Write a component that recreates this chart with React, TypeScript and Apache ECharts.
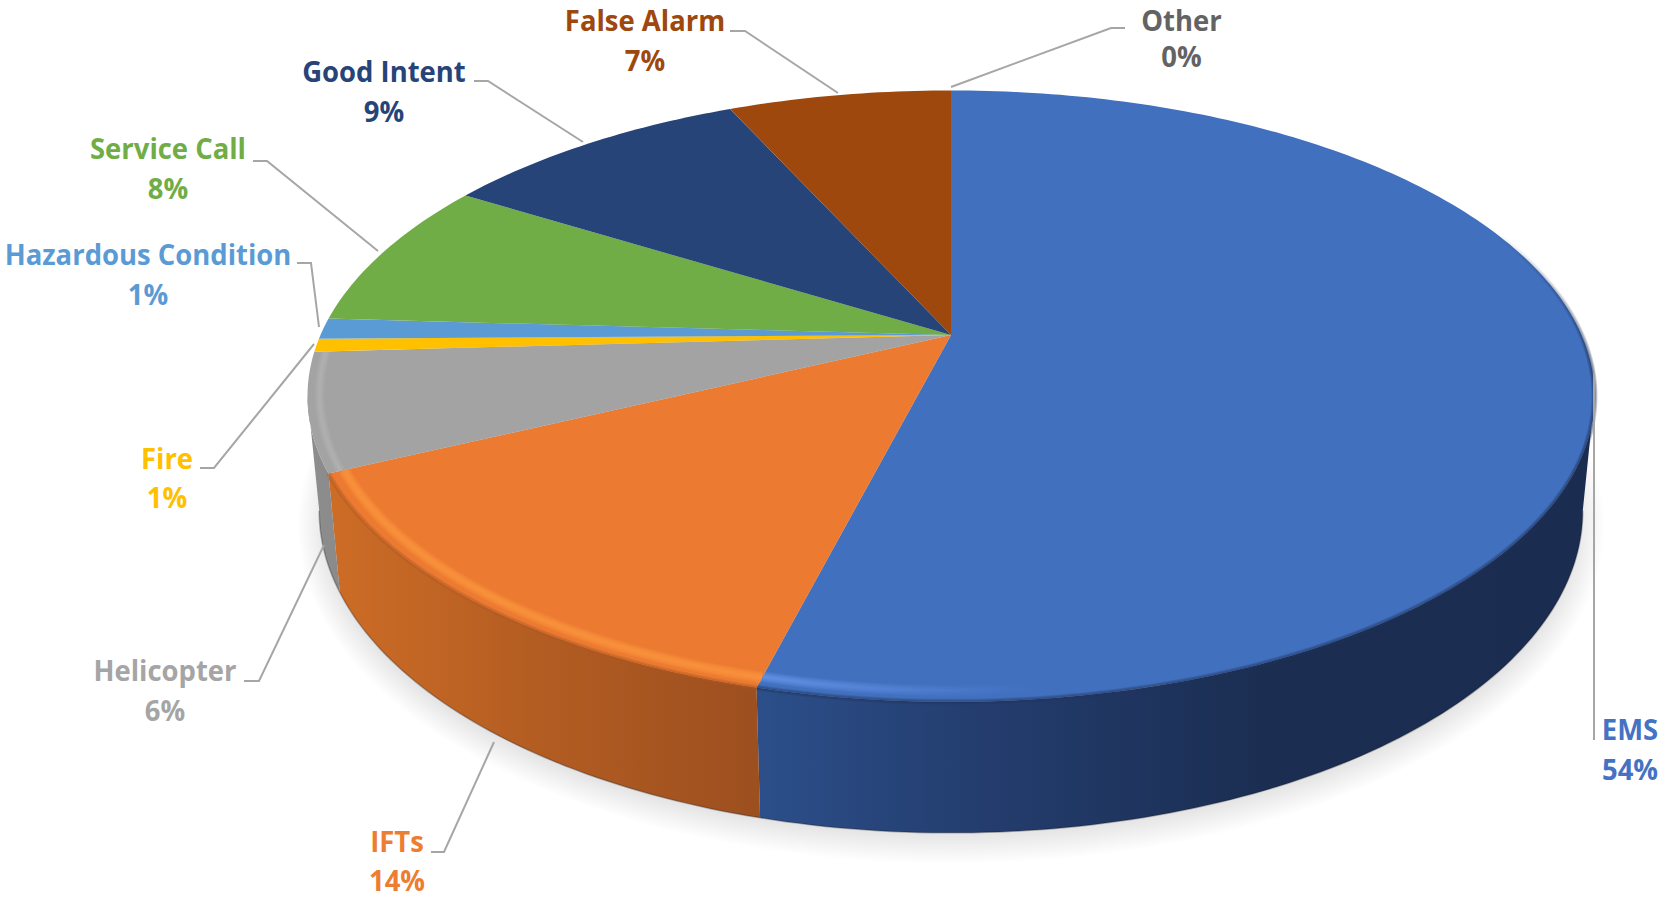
import React, { useEffect, useRef } from "react";
import * as echarts from "echarts";

const categories = ["EMS", "IFTs", "Helicopter", "Fire", "Hazardous Condition", "Service Call", "Good Intent", "False Alarm", "Other"];
const sliceValues = [54.0, 13.9, 6.2, 0.7, 1.1, 7.9, 9.4, 6.8, 0.0];
const percentLabels = ["54%", "14%", "6%", "1%", "1%", "8%", "9%", "7%", "0%"];
const topColors = ["#4170BF", "#EC7B31", "#A3A3A3", "#FFC000", "#5B9BD5", "#70AD47", "#264478", "#9E480E", "#636363"];
const textColors = ["#4472C4", "#ED7D31", "#A5A5A5", "#FFC000", "#5B9BD5", "#70AD47", "#264478", "#9E480E", "#636363"];

// Projected geometry of the disc: top face and lower rim
const topDisc = { cx: 951, cy: 335, R: 630.5, H: 293.5, k: 0.2 };
const lowerDisc = { cx: 951, cy: 446.6, R: 619, H: 309, k: 0.2 };
const VISIBLE_FROM = 101.5;
const VISIBLE_TO = 258.5;

// Label layout: [x, name y, percent y]
const labelPlaces = [
  [1630, 728.5, 768.5], [397, 840.5, 880], [165, 669.5, 709.5], [167, 457.5, 496.5], [148, 254, 293.5],
  [168, 147.5, 188], [384, 71, 110.5], [645, 20, 59.5], [1181.5, 19.5, 55.5],
];
const leaderLines = [
  [[1594, 373], [1594, 740]],
  [[431, 852], [444, 852], [494, 742]],
  [[244, 681], [259, 681], [324, 545]],
  [[200, 468], [214, 468], [314, 344]],
  [[297, 263], [311, 263], [319, 327]],
  [[253, 161], [267, 161], [378, 251]],
  [[474, 81], [488, 81], [583, 142]],
  [[730, 31], [745, 31], [838, 93]],
  [[1125, 28], [1111, 28], [951, 87]],
];

const wallStops: any = {
  0: [[0, "#2C4F8A"], [0.25, "#243E70"], [0.6, "#1B2E52"], [1, "#1A2C50"]],
  1: [[0, "#CC6C26"], [0.5, "#B25C22"], [1, "#9C4F1F"]],
  2: [[0, "#8E8E8E"], [1, "#8A8A8A"]],
};
const wallRanges: any = { 0: [756, 1594], 1: [335, 760], 2: [300, 345] };

const total = sliceValues.reduce((a, b) => a + b, 0);
function sliceAngles(i: number) {
  let s = 0;
  for (let j = 0; j < i; j++) s += sliceValues[j];
  return [(s / total) * 360, ((s + sliceValues[i]) / total) * 360];
}
function project(d: any, deg: number, rho = 1) {
  const t = (deg * Math.PI) / 180;
  const u = rho * Math.sin(t);
  const v = rho * Math.cos(t);
  const w = 1 + d.k * v;
  return [d.cx + (d.R * u) / w, d.cy - (d.H * v) / w];
}
function arc(d: any, a: number, b: number, rho = 1) {
  const n = Math.max(2, Math.ceil(Math.abs(b - a)));
  const pts = [];
  for (let i = 0; i <= n; i++) pts.push(project(d, a + ((b - a) * i) / n, rho));
  return pts;
}
function hGrad(x0: number, x1: number, stops: any[]) {
  return new echarts.graphic.LinearGradient(
    x0, 0, x1, 0,
    stops.map(([offset, color]) => ({ offset, color })),
    true,
  );
}
function softStroke(pts: number[][], color: any, width: number, steps: number, opacity: number) {
  const out = [];
  for (let s = 0; s < steps; s++) {
    out.push({
      type: "polyline",
      shape: { points: pts },
      style: { fill: "none", stroke: color, lineWidth: (width * (steps - s)) / steps, opacity, lineCap: "butt" },
      silent: true,
    });
  }
  return out;
}

function renderShadow() {
  const children = [];
  const n = 14;
  for (let i = 0; i < n; i++) {
    const grow = 15 - (30 * i) / (n - 1);
    children.push({
      type: "ellipse",
      shape: { cx: 951, cy: 526, rx: 638 + grow, ry: 322 + grow },
      style: { fill: "rgba(0,0,0,0.0085)" },
      silent: true,
    });
  }
  return { type: "group", children };
}

function renderWall(params: any) {
  const i = params.dataIndex;
  const [a0, b0] = sliceAngles(i);
  const a = Math.max(a0, VISIBLE_FROM);
  const b = Math.min(b0, VISIBLE_TO);
  if (b <= a) return null;
  const upper = arc(topDisc, a, b);
  const lower = arc(lowerDisc, a, b);
  const fill = hGrad(wallRanges[i][0], wallRanges[i][1], wallStops[i]);
  return {
    type: "group",
    children: [
      {
        type: "polygon",
        shape: { points: upper.concat(lower.slice().reverse()) },
        style: { fill },
        silent: true,
      },
      {
        type: "polyline",
        shape: { points: lower },
        style: { fill: "none", stroke: "rgba(20,20,30,0.3)", lineWidth: 1.5 },
        silent: true,
      },
    ],
  };
}

function renderTop(params: any) {
  const i = params.dataIndex;
  const [a, b] = sliceAngles(i);
  if (b - a <= 0) return null;
  const children: any[] = [
    {
      type: "polygon",
      shape: { points: [[topDisc.cx, topDisc.cy], ...arc(topDisc, a, b)] },
      style: { fill: topColors[i] },
      silent: true,
    },
  ];
  if (i === 0) {
    const shade = new echarts.graphic.LinearGradient(0, 230, 0, 700,
      [{ offset: 0, color: "rgba(26,44,80,0)" }, { offset: 0.3, color: "rgba(26,44,80,0.7)" }, { offset: 1, color: "rgba(30,50,90,0.6)" }], true);
    children.push(...softStroke(arc(topDisc, 60, b, 1), shade, 6, 4, 0.3));
    const glow = hGrad(756, 1040, [[0, "#6F9FF5"], [0.45, "#5C8BDF"], [1, "rgba(80,125,210,0)"]]);
    children.push(...softStroke(arc(topDisc, 128, b, 0.975), glow, 11, 6, 0.16));
  } else if (i === 1) {
    children.push(...softStroke(arc(topDisc, a, b, 1), "#B25C22", 5, 4, 0.2));
    children.push(...softStroke(arc(topDisc, a, b, 0.977), "#FF9A45", 12, 6, 0.18));
  } else if (i === 2) {
    children.push(...softStroke(arc(topDisc, a, b, 0.982), "#BEBEBE", 10, 6, 0.11));
  }
  return { type: "group", children };
}

function renderLabel(params: any) {
  const i = params.dataIndex;
  const [x, y1, y2] = labelPlaces[i];
  const font = { fontFamily: "'Open Sans'", fontWeight: 700, fontSize: 28 };
  const line = (y: number, text: string) => ({
    type: "text",
    x,
    y,
    scaleX: 0.98,
    style: { ...font, x: 0, y: 0, text, fill: textColors[i], textAlign: "center", textVerticalAlign: "middle" },
    silent: true,
  });
  return {
    type: "group",
    children: [
      {
        type: "polyline",
        shape: { points: leaderLines[i] },
        style: { fill: "none", stroke: "#A6A6A6", lineWidth: 2 },
        silent: true,
      },
      line(y1, categories[i]),
      line(y2, percentLabels[i]),
    ],
  };
}

export default function App() {
  const ref = useRef<HTMLDivElement>(null);
  useEffect(() => {
    document.body.style.margin = "0";
    document.body.style.overflow = "hidden";
    document.body.style.background = "#fff";
    const chart = echarts.init(ref.current!, null, { renderer: "svg" });
    const base = { type: "custom", coordinateSystem: "none", silent: true, clip: false };
    chart.setOption({
      animation: false,
      backgroundColor: "#ffffff",
      series: [
        { ...base, name: "shadow", z: 1, data: [1], renderItem: renderShadow },
        { ...base, name: "walls", z: 2, data: sliceValues, renderItem: renderWall },
        { ...base, name: "tops", z: 3, data: sliceValues, renderItem: renderTop },
        { ...base, name: "labels", z: 4, data: categories.map((n, i) => ({ name: n, value: sliceValues[i] })), renderItem: renderLabel },
      ],
    });
    return () => chart.dispose();
  }, []);
  return <div ref={ref} style={{ width: 1669, height: 899 }} />;
}
